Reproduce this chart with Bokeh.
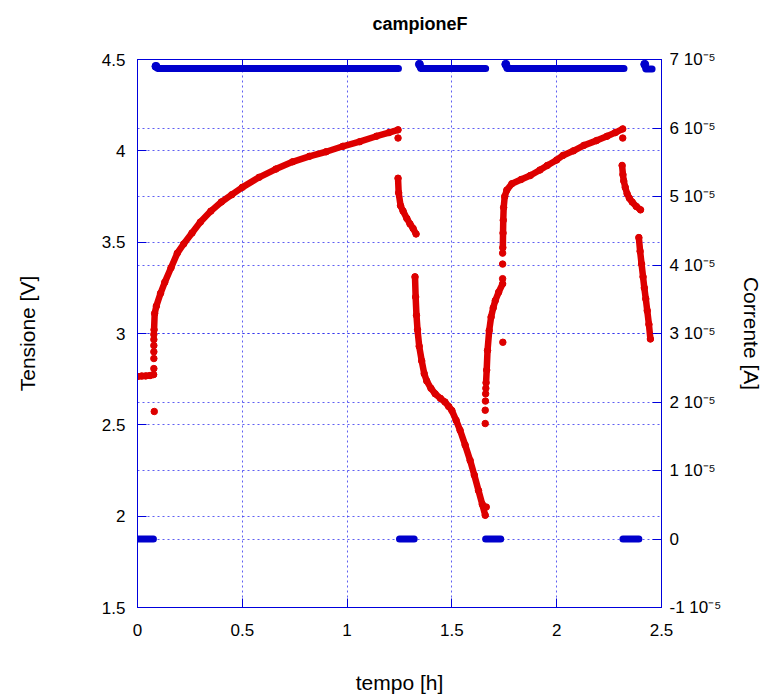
from bokeh.plotting import figure
from bokeh.models import (Range1d, LinearAxis, FixedTicker, CustomJSTickFormatter,
                          Grid)
from bokeh.embed import file_html
from bokeh.resources import INLINE

# ---------------- data ----------------
# Voltage [V] vs time [h]; continuous stretches of the log
rest1_t = [0.0, 0.02, 0.04, 0.06, 0.077]
rest1_v = [2.765, 2.767, 2.768, 2.770, 2.775]

charge1_t = [0.079, 0.082, 0.09, 0.11, 0.13, 0.16, 0.19, 0.22, 0.26, 0.30, 0.35, 0.40,
             0.45, 0.50, 0.58, 0.66, 0.74, 0.82, 0.90, 0.98, 1.06, 1.14, 1.20, 1.243]
charge1_v = [3.02, 3.11, 3.15, 3.22, 3.28, 3.36, 3.44, 3.49, 3.55, 3.61, 3.67, 3.72,
             3.76, 3.80, 3.855, 3.90, 3.94, 3.97, 3.995, 4.025, 4.05, 4.08, 4.10, 4.115]

relax1_t = [1.243, 1.246, 1.255, 1.267, 1.285, 1.30, 1.315, 1.329]
relax1_v = [3.85, 3.77, 3.70, 3.67, 3.63, 3.60, 3.575, 3.545]

disch1_t = [1.324, 1.327, 1.331, 1.336, 1.344, 1.356, 1.368, 1.38, 1.40, 1.42, 1.445,
            1.467, 1.485, 1.50, 1.52, 1.539, 1.563, 1.587, 1.607, 1.627, 1.645, 1.659]
disch1_v = [3.31, 3.20, 3.10, 3.02, 2.93, 2.85, 2.78, 2.74, 2.70, 2.67, 2.645,
            2.625, 2.60, 2.578, 2.525, 2.47, 2.39, 2.305, 2.225, 2.14, 2.065, 2.005]

relax2_t = [1.663, 1.666, 1.670, 1.678, 1.687, 1.697, 1.707, 1.723, 1.742]
relax2_v = [2.73, 2.80, 2.907, 3.016, 3.09, 3.14, 3.18, 3.226, 3.272]

charge2_t = [1.743, 1.744, 1.745, 1.747, 1.752, 1.762, 1.786, 1.83, 1.874, 1.92, 1.955,
             2.0, 2.03, 2.08, 2.13, 2.19, 2.24, 2.28, 2.315]
charge2_v = [3.47, 3.55, 3.62, 3.69, 3.75, 3.785, 3.82, 3.843, 3.865, 3.895, 3.92,
             3.95, 3.975, 4.0, 4.03, 4.056, 4.08, 4.10, 4.12]

relax3_t = [2.312, 2.316, 2.32, 2.327, 2.336, 2.347, 2.36, 2.38, 2.40]
relax3_v = [3.92, 3.87, 3.835, 3.80, 3.765, 3.74, 3.72, 3.695, 3.677]

disch2_t = [2.392, 2.398, 2.405, 2.412, 2.418, 2.425, 2.432, 2.44, 2.447]
disch2_v = [3.525, 3.45, 3.38, 3.31, 3.25, 3.19, 3.125, 3.05, 2.97]

# isolated voltage samples (fast transients)
spot_t = [0.078, 0.078, 0.078, 0.078, 0.078, 0.078, 0.08, 1.243, 1.664,
          1.659, 1.659, 1.660, 1.661, 1.662, 1.742, 1.742, 1.742, 1.743, 2.315]
spot_v = [2.808, 2.863, 2.90, 2.934, 2.967, 2.995, 2.573, 4.07, 2.05,
          2.507, 2.58, 2.63, 2.67, 2.70, 3.30, 3.38, 3.44, 2.952, 4.07]

# Current [A] vs time [h]
cur_rest_t = [[0.0, 0.076], [1.25, 1.32], [1.661, 1.733], [2.316, 2.392]]
cur_rest_i = [[0.0, 0.0], [0.0, 0.0], [0.0, 0.0], [0.0, 0.0]]
cur_on_t = [[0.088, 0.095, 1.245], [1.345, 1.35, 1.661], [1.757, 1.762, 2.321], [2.42, 2.425, 2.455]]
cur_on_i = [[6.90e-5, 6.87e-5, 6.87e-5], [6.93e-5, 6.87e-5, 6.87e-5],
            [6.93e-5, 6.87e-5, 6.87e-5], [6.93e-5, 6.86e-5, 6.86e-5]]

volt_ticks = [1.5, 2.0, 2.5, 3.0, 3.5, 4.0, 4.5]
cur_ticks = [-1e-5, 0.0, 1e-5, 2e-5, 3e-5, 4e-5, 5e-5, 6e-5, 7e-5]
time_ticks = [0.0, 0.5, 1.0, 1.5, 2.0, 2.5]

# ---------------- styling ----------------
RED = "#dd0000"
BLUE = "#0000cc"
FRAME = "#0000dd"
GRID = "#2a2aee"
FONT = "Liberation Sans"

p = figure(width=767, height=700, output_backend="svg", toolbar_location=None,
           x_range=Range1d(0, 2.5), y_range=Range1d(1.5, 4.5),
           min_border_left=137, min_border_right=106, min_border_top=59,
           min_border_bottom=93, x_axis_label="tempo [h]", y_axis_label="Tensione [V]")
p.extra_y_ranges = {"cur": Range1d(-1e-5, 7e-5)}

p.title.text = "campioneF"
p.title.align = "left"
p.title.offset = 235
p.title.text_font = FONT
p.title.text_font_size = "18px"
p.title.text_font_style = "bold"
p.title.text_color = "black"
p.title.standoff = 0

p.outline_line_color = FRAME
p.outline_line_width = 1
p.background_fill_color = "white"
p.border_fill_color = "white"

num_fmt = CustomJSTickFormatter(code="return String(+tick.toFixed(2));")
cur_fmt = CustomJSTickFormatter(code="""
    const m = Math.round(tick / 1e-5);
    if (m === 0) return "0";
    return m + " 10\u207B\u2075";
""")


def style_axis(ax, standoff, label_standoff):
    ax.axis_line_color = FRAME
    ax.major_tick_line_color = FRAME
    ax.major_tick_in = 9
    ax.major_tick_out = 0
    ax.minor_tick_line_color = None
    ax.major_label_text_font = FONT
    ax.major_label_text_font_size = "17px"
    ax.major_label_text_color = "black"
    ax.major_label_standoff = standoff
    ax.axis_label_text_font = FONT
    ax.axis_label_text_font_size = "21px"
    ax.axis_label_text_font_style = "normal"
    ax.axis_label_text_color = "black"
    ax.axis_label_standoff = label_standoff


xa = p.xaxis[0]
xa.ticker = FixedTicker(ticks=time_ticks)
xa.formatter = num_fmt
style_axis(xa, 16, 32)

ya = p.yaxis[0]
ya.ticker = FixedTicker(ticks=volt_ticks)
ya.formatter = num_fmt
style_axis(ya, 12, 60)

ya2 = LinearAxis(y_range_name="cur", axis_label="Corrente [A]",
                 ticker=FixedTicker(ticks=cur_ticks), formatter=cur_fmt)
style_axis(ya2, 8, 16)
p.add_layout(ya2, "right")

# mirrored time ticks along the top edge (no labels)
xt = LinearAxis(ticker=FixedTicker(ticks=time_ticks),
                major_label_overrides={t: "" for t in time_ticks})
xt.axis_line_color = FRAME
xt.major_tick_line_color = FRAME
xt.major_tick_in = 9
xt.major_tick_out = 0
xt.minor_tick_line_color = None
xt.major_label_standoff = 0
p.add_layout(xt, "above")

# unpainted spacer between the frame and the title
gap = LinearAxis(ticker=FixedTicker(ticks=time_ticks),
                 major_label_overrides={t: "" for t in time_ticks})
gap.axis_line_color = None
gap.major_tick_line_color = None
gap.major_tick_in = 0
gap.major_tick_out = 26
gap.minor_tick_line_color = None
gap.major_label_standoff = 0
p.add_layout(gap, "above")

for g in p.grid:
    g.grid_line_color = GRID
    g.grid_line_alpha = 0.75
    g.grid_line_dash = "2 3"
    g.grid_line_width = 1
p.xgrid[0].ticker = FixedTicker(ticks=time_ticks)
p.ygrid[0].ticker = FixedTicker(ticks=volt_ticks)

g2 = Grid(dimension=1, y_range_name="cur", ticker=FixedTicker(ticks=cur_ticks),
          grid_line_color=GRID, grid_line_alpha=0.75, grid_line_dash="2 3",
          grid_line_width=1)
p.add_layout(g2)

# ---------------- current ----------------
p.multi_line(xs=cur_rest_t + cur_on_t, ys=cur_rest_i + cur_on_i, y_range_name="cur",
             line_color=BLUE, line_width=7, line_cap="round", line_join="round")
ends_t = [seg[0] for seg in cur_on_t]
ends_i = [seg[0] for seg in cur_on_i]
p.scatter(ends_t, ends_i, y_range_name="cur", size=8, color=BLUE)

# ---------------- voltage ----------------
v_xs = [rest1_t, charge1_t, relax1_t, disch1_t, relax2_t, charge2_t, relax3_t, disch2_t]
v_ys = [rest1_v, charge1_v, relax1_v, disch1_v, relax2_v, charge2_v, relax3_v, disch2_v]
p.multi_line(xs=v_xs, ys=v_ys, line_color=RED, line_width=6.5,
             line_cap="round", line_join="round")
all_t = [t for seg in v_xs for t in seg]
all_v = [v for seg in v_ys for v in seg]
p.scatter(all_t, all_v, size=6.5, color=RED)
p.scatter(spot_t, spot_v, size=6.5, color=RED)

open("out.html", "w").write(file_html(p, INLINE))
